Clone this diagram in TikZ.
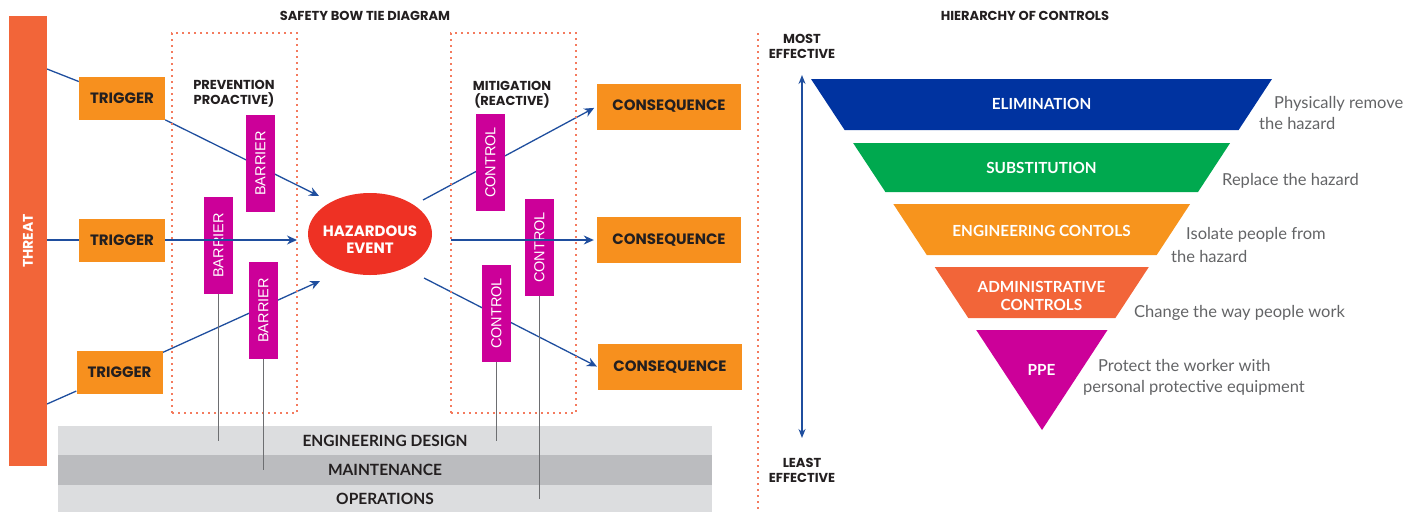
\documentclass[tikz,border=0pt]{standalone}
\usepackage{fontspec}
\usepackage{xcolor}
\usepackage{tikz}
\usetikzlibrary{positioning,arrows.meta,shapes.geometric,backgrounds}

\newfontfamily\bowfont{Poppins}
\newfontfamily\hocfont{Lato}
\newfontfamily\barfont{Liberation Sans}

\definecolor{threatorange}{HTML}{F26539}
\definecolor{boxorange}{HTML}{F7901E}
\definecolor{barmagenta}{HTML}{CC0099}
\definecolor{hazardred}{HTML}{EE3124}
\definecolor{zonered}{HTML}{F47B5E}
\definecolor{arrowblue}{HTML}{1F4E9E}
\definecolor{bandlight}{HTML}{DCDDDF}
\definecolor{banddark}{HTML}{BBBCBF}
\definecolor{guidegrey}{HTML}{6D6E71}
\definecolor{darktext}{HTML}{231F20}
\definecolor{hintgrey}{HTML}{636466}
\definecolor{elimblue}{HTML}{0033A0}
\definecolor{subgreen}{HTML}{00A94F}
\definecolor{engorange}{HTML}{F7941D}
\definecolor{adminred}{HTML}{F26539}
\definecolor{ppemagenta}{HTML}{CC0099}

\begin{document}
\begin{tikzpicture}[x=1pt, y=-1pt,
        trigger/.style={fill=boxorange, text=darktext, minimum width=86pt, minimum height=43pt, inner sep=0pt, font=\bowfont\bfseries\fontsize{15}{18}\selectfont},
        consequence/.style={trigger, minimum width=144pt, minimum height=46pt},
        barrier/.style={fill=barmagenta, text=white, rotate=90, minimum width=97pt, minimum height=29pt, inner sep=0pt, font=\barfont\fontsize{14.5}{16}\selectfont},
        threat/.style={fill=threatorange, text=white, rotate=90, minimum width=450pt, minimum height=38pt, inner sep=0pt, font=\bowfont\bfseries\fontsize{14}{16}\selectfont},
        hazard/.style={ellipse, fill=hazardred, minimum width=124pt, minimum height=82pt, inner sep=0pt},
        hazardtext/.style={text=white, align=center, inner sep=0pt, font=\bowfont\bfseries\fontsize{15}{17}\selectfont},
        zone/.style={draw=zonered, line width=1.6pt, dash pattern=on 1.6pt off 4.4pt, minimum width=125pt, minimum height=380pt, inner sep=0pt},
        phase/.style={align=center, text=darktext, inner sep=0pt, font=\bowfont\bfseries\fontsize{13}{15}\selectfont},
        heading/.style={text=darktext, inner sep=0pt, align=center, font=\bowfont\bfseries\fontsize{13}{15}\selectfont},
        band/.style={minimum width=654pt, inner sep=0pt, text=darktext, font=\hocfont\bfseries\fontsize{15.5}{17}\selectfont},
        link/.style={draw=arrowblue, line width=1.3pt},
        arrow/.style={link, -{Stealth[length=10pt, width=9pt]}},
        guide/.style={draw=guidegrey, line width=0.8pt},
        level/.style={text=white, align=center, font=\hocfont\bfseries\fontsize{15.3}{18}\selectfont},
        hint/.style={anchor=base west, inner sep=0pt, text=hintgrey, font=\hocfont\fontsize{16.5}{18}\selectfont}
    ]
    \useasboundingbox (0,0) rectangle (1421,512);

    % 标题
    \node[heading] (bowtitle) at (365,16) {SAFETY BOW TIE DIAGRAM};
    \node[heading] (hoctitle) at (1025,16) {HIERARCHY OF CONTROLS};

    % 威胁
    \node[threat] (threat) at (28,241) {THREAT};

    % 预防区与缓解区
    \node[zone] (prevzone) at (234.5,223) {};
    \node[zone] (mitzone) at (513.5,223) {};
    \node[phase] (prevlabel) at (234,94) {PREVENTION\\PROACTIVE)};
    \node[phase] (mitlabel) at (512,95) {MITIGATION\\(REACTIVE)};
    \draw[zone] (758,33) -- (758,512);

    % 触发因素
    \node[trigger] (trigger1) at (122,98.5) {TRIGGER};
    \node[trigger] (trigger2) at (122,240) {TRIGGER};
    \node[trigger] (trigger3) at (119.5,372) {TRIGGER};

    % 屏障
    \node[barrier] (barrier1) at (260.5,163.5) {BARRIER};
    \node[barrier] (barrier2) at (218.5,245.5) {BARRIER};
    \node[barrier] (barrier3) at (263.5,310.5) {BARRIER};

    % 危险事件
    \node[hazard] (hazard) at (370,234) {};
    \node[hazardtext] (hazardlabel) at (370,240) {HAZARDOUS\\EVENT};

    % 控制措施
    \node[barrier] (control1) at (490.5,162.5) {CONTROL};
    \node[barrier] (control2) at (539.5,247.5) {CONTROL};
    \node[barrier] (control3) at (496.5,313.5) {CONTROL};

    % 后果
    \node[consequence] (cons1) at (669,106.5) {CONSEQUENCE};
    \node[consequence] (cons2) at (669,240) {CONSEQUENCE};
    \node[consequence] (cons3) at (670,367) {CONSEQUENCE};

    % 管理层
    \node[band, fill=bandlight, minimum height=29pt] (design) at (385,440.5) {ENGINEERING DESIGN};
    \node[band, fill=banddark, minimum height=30pt] (maintenance) at (385,470) {MAINTENANCE};
    \node[band, fill=bandlight, minimum height=27pt] (operations) at (385,498.5) {OPERATIONS};

    % 连接点
    \coordinate (in1) at (47,69);
    \coordinate (in2) at (47,240);
    \coordinate (in3) at (47,404);
    \coordinate (hit1) at (319,196);
    \coordinate (hit2) at (297,240);
    \coordinate (hit3) at (320,281);
    \coordinate (out1) at (423,200);
    \coordinate (out2) at (451,240);
    \coordinate (out3) at (424,278);

    % 连接箭头 (斜线在方块后面)
    \begin{scope}[on background layer]
        \draw[link] (in1) -- (trigger1);
        \draw[arrow] (trigger1) -- (hit1);
        \draw[link] (in3) -- (trigger3);
        \draw[arrow] (trigger3) -- (hit3);
        \draw[arrow, shorten >=3pt] (out1) -- (cons1.west);
        \draw[arrow, shorten >=1pt] (out3) -- (cons3.west);
    \end{scope}
    \draw[link] (in2) -- (trigger2);
    \draw[arrow] (trigger2) -- (hit2);
    \draw[arrow, shorten >=3pt] (out2) -- (cons2);

    % 屏障与管理层的连线
    \draw[guide] (barrier2.west) -- (barrier2.west |- design);
    \draw[guide] (barrier3.west) -- (barrier3.west |- maintenance);
    \draw[guide] (control3.west) -- (control3.west |- design);
    \draw[guide] (control2.west) -- (control2.west |- operations);

    % 控制层级
    \fill[elimblue] (811,79) -- (1272,79) -- (1238.6,130) -- (844.6,130) -- cycle;
    \fill[subgreen] (853.1,143) -- (1230.1,143) -- (1198,192) -- (885.4,192) -- cycle;
    \fill[engorange] (893.3,204) -- (1190.1,204) -- (1156.7,255) -- (926.8,255) -- cycle;
    \fill[adminred] (934.7,267) -- (1148.8,267) -- (1115.4,318) -- (968.3,318) -- cycle;
    \fill[ppemagenta] (976.2,330) -- (1107.5,330) -- (1042,430) -- cycle;

    \node[level] (elimination) at (1041.5,104) {ELIMINATION};
    \node[level] (substitution) at (1041.5,168) {SUBSTITUTION};
    \node[level] (engineering) at (1041.5,231) {ENGINEERING CONTOLS};
    \node[level] (administrative) at (1041.5,296) {ADMINISTRATIVE\\CONTROLS};
    \node[level] (ppe) at (1041.5,370) {PPE};

    % 说明文字
    \node[hint] (elimhint1) at (1274,108) {Physically remove};
    \node[hint] (elimhint2) at (1259,129) {the hazard};
    \node[hint] (subhint) at (1222,185) {Replace the hazard};
    \node[hint] (enghint1) at (1186,239) {Isolate people from};
    \node[hint] (enghint2) at (1171,262) {the hazard};
    \node[hint] (adminhint) at (1134,317) {Change the way people work};
    \node[hint] (ppehint1) at (1098,371) {Protect the worker with};
    \node[hint] (ppehint2) at (1083,392) {personal protective equipment};

    % 有效性箭头
    \coordinate (most) at (802,75);
    \coordinate (least) at (802,438);
    \draw[link, {Stealth[length=9pt, width=7pt]}-{Stealth[length=9pt, width=7pt]}] (most) -- (least);
    \node[heading, above=16pt of most] (mostlabel) {MOST\\EFFECTIVE};
    \node[heading, below=20pt of least] (leastlabel) {LEAST\\EFFECTIVE};

\end{tikzpicture}
\end{document}
